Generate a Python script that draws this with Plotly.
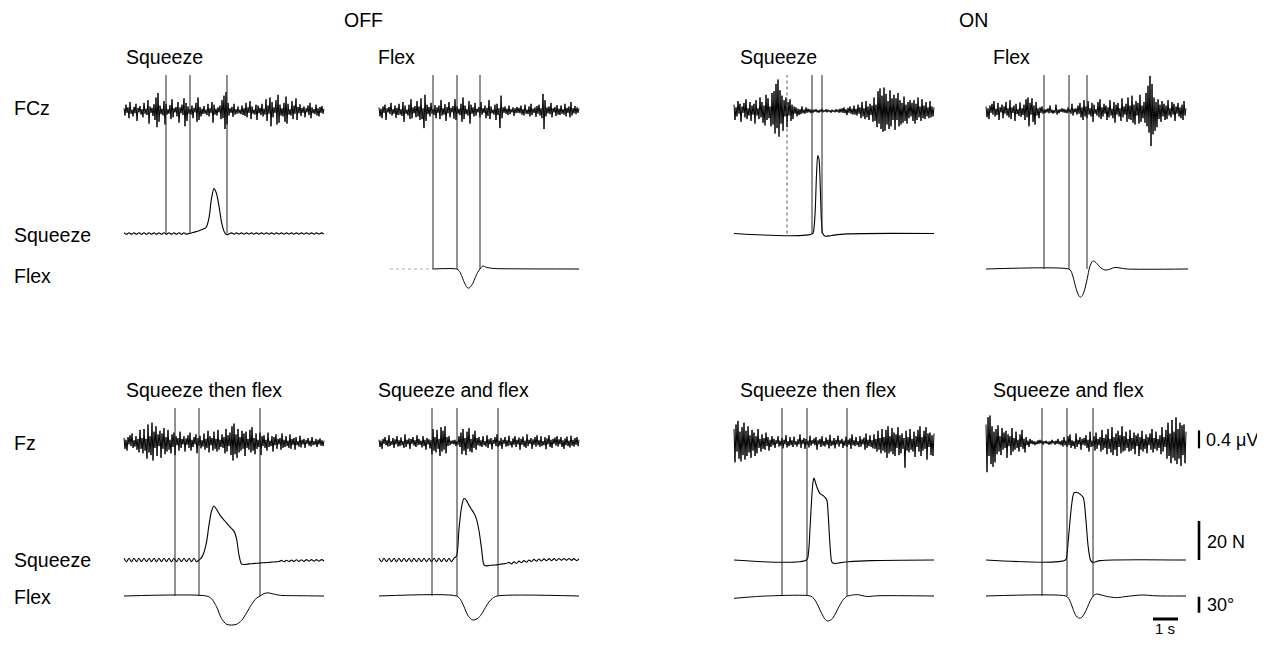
import numpy as np
import plotly.graph_objects as go

# ------------------------------------------------------------------ data
EEG_DT = 0.04    # s between EEG samples
FORCE_DT = 0.1   # s between samples of the OFF squeeze-force traces

# EEG (hundredths of a microvolt)
eeg_off_squeeze = [
    6, -10, 14, -4, 8, -16, 20, -6, 3, -12, 9, -5, 16, -22, 7, -3, 11, -8, 4, -14,
    18, -6, 5, -9, 24, -28, 10, -4, 7, -11, 15, -20, 30, -36, 40, -24, 12, -7, 5, -10,
    22, -30, 16, -8, 4, -6, 13, -18, 26, -14, 6, -3, 9, -12, 20, -26, 8, -5, 14, -9,
    28, -34, 18, -22, 10, -6, 4, -8, 12, -16, 7, -3, 18, -24, 30, -20, 9, -12, 5, -7,
    11, -6, 3, -9, 16, -12, 6, -4, 20, -26, 14, -8, 5, -10, 8, -3, 12, -18, 24, -16,
    34, -40, 42, -30, 18, -10, 6, -4, 9, -13, 16, -8, 4, -6, 10, -5, 3, -7, 12, -9,
    6, -11, 18, -14, 8, -4, 22, -18, 10, -6, 3, -8, 14, -20, 12, -5, 7, -9, 16, -12,
    5, -8, 26, -22, 12, -6, 30, -34, 20, -14, 8, -4, 24, -30, 36, -26, 14, -10, 6, -12,
    18, -24, 32, -28, 16, -8, 4, -10, 22, -18, 12, -6, 28, -20, 9, -5, 15, -11, 7, -4,
    10, -14, 6, -3, 12, -9, 18, -16, 8, -5, 4, -7, 14, -10, 6, -12, 9, -4, 11, -6,
    5]
eeg_off_flex = [
    8, -12, 5, -16, 10, -4, 14, -20, 6, -3, 9, -7, 18, -10, 4, -6, 12, -15, 7, -9,
    16, -8, 4, -11, 20, -24, 12, -6, 3, -10, 14, -18, 26, -16, 8, -5, 11, -14, 22, -12,
    10, -20, 28, -18, 6, -38, 36, -22, 14, -7, 9, -12, 18, -6, 4, -9, 13, -16, 8, -4,
    12, -18, 24, -10, 6, -8, 15, -22, 9, -5, 20, -14, 7, -3, 11, -17, 26, -20, 10, -6,
    5, -9, 16, -24, 30, -18, 12, -7, 4, -10, 22, -28, 14, -6, 8, -12, 18, -10, 5, -3,
    9, -14, 20, -8, 6, -4, 12, -16, 7, -11, 24, -18, 10, -5, 3, -8, 14, -20, 16, -9,
    6, -38, 34, -16, 8, -4, 10, -6, 5, -9, 12, -7, 4, -3, 8, -11, 6, -5, 9, -4,
    7, -5, 12, -8, 4, -10, 14, -6, 3, -7, 10, -12, 16, -9, 5, -4, 8, -13, 11, -6,
    14, -10, 6, -16, 38, -40, 24, -12, 8, -5, 10, -7, 18, -14, 6, -3, 9, -11, 13, -8,
    5, -9, 12, -6, 4, -8, 16, -12, 7, -4, 10, -14, 20, -10, 6, -5, 11, -7, 8, -4,
    6]
eeg_on_squeeze = [
    14, -20, 8, -12, 22, -6, 16, -24, 10, -4, 18, -14, 26, -18, 6, -10, 20, -22, 12, -8,
    16, -28, 24, -10, 6, -18, 30, -14, 20, -26, 12, -32, 36, -20, 28, -16, 10, -34, 40, -30,
    44, -50, 60, -38, 70, -57, 46, -28, 34, -44, 24, -12, 30, -36, 20, -10, 26, -22, 14, -18,
    10, -6, 8, -12, 5, -9, 4, -7, 10, -5, 3, -6, 8, -4, 5, -3, 4, -5, 3, -4,
    3, -2, 4, -3, 2, -4, 3, -2, 5, -3, 2, -2, 4, -3, 3, -2, 2, -4, 3, -2,
    2, -3, 4, -2, 3, -4, 5, -3, 6, -4, 8, -5, 4, -9, 7, -4, 10, -6, 5, -8,
    12, -8, 5, -10, 14, -6, 8, -16, 20, -12, 6, -18, 22, -14, 10, -20, 16, -9, 12, -24,
    30, -22, 14, -36, 44, -28, 50, -40, 34, -46, 52, -44, 38, -30, 22, -40, 46, -34, 28, -20,
    36, -42, 28, -20, 40, -34, 24, -30, 18, -26, 32, -22, 14, -28, 20, -16, 24, -12, 18, -22,
    24, -28, 16, -20, 30, -14, 10, -22, 26, -16, 12, -18, 20, -12, 8, -16, 22, -14, 10, -12,
    8]
eeg_on_flex = [
    10, -14, 6, -18, 12, -4, 16, -8, 22, -12, 5, -9, 18, -20, 8, -3, 14, -16, 10, -6,
    20, -10, 6, -14, 24, -18, 8, -4, 12, -22, 16, -7, 4, -11, 19, -13, 6, -9, 14, -20,
    26, -14, 30, -34, 18, -8, 28, -24, 12, -30, 20, -10, 6, -16, 8, -4, 10, -6, 3, -5,
    4, -3, 6, -5, 12, -4, 3, -6, 2, -4, 14, -8, 3, -5, 4, -2, 6, -3, 5, -4,
    3, -5, 8, -3, 4, -6, 16, -10, 5, -3, 6, -8, 12, -6, 18, -14, 8, -20, 24, -12,
    10, -16, 22, -8, 6, -12, 18, -24, 14, -6, 4, -10, 20, -14, 26, -18, 8, -12, 16, -6,
    12, -20, 8, -14, 24, -10, 5, -16, 20, -26, 14, -8, 18, -12, 6, -22, 28, -14, 10, -8,
    16, -24, 30, -18, 12, -20, 34, -26, 14, -30, 22, -10, 18, -28, 36, -24, 12, -16, 20, -26,
    40, -34, 56, -48, 78, -78, 60, -52, 30, -44, 20, -36, 26, -18, 14, -24, 22, -12, 16, -20,
    12, -18, 24, -10, 6, -14, 20, -8, 16, -22, 10, -6, 18, -12, 8, -16, 14, -20, 22, -10,
    6]
eeg_off_stf = [
    10, -14, 6, -18, 12, -4, 16, -8, 20, -12, 5, -9, 14, -16, 8, -22, 28, -14, 10, -24,
    30, -18, 8, -36, 40, -22, 14, -28, 44, -40, 24, -12, 36, -30, 18, -8, 26, -34, 20, -14,
    32, -26, 12, -20, 28, -16, 6, -24, 18, -10, 22, -28, 14, -6, 10, -18, 24, -12, 8, -4,
    14, -20, 9, -5, 16, -12, 22, -18, 6, -10, 12, -4, 18, -24, 10, -7, 15, -13, 5, -9,
    20, -16, 8, -12, 26, -22, 14, -6, 10, -18, 24, -14, 8, -20, 28, -16, 6, -10, 18, -12,
    12, -24, 30, -20, 16, -8, 22, -28, 36, -40, 42, -26, 18, -34, 30, -22, 12, -18, 26, -14,
    20, -30, 24, -12, 8, -16, 28, -22, 34, -18, 10, -26, 20, -14, 6, -10, 22, -28, 14, -8,
    16, -12, 6, -18, 22, -10, 4, -8, 14, -20, 12, -6, 18, -14, 8, -4, 10, -16, 20, -12,
    6, -10, 14, -8, 4, -12, 18, -14, 8, -5, 10, -16, 12, -6, 3, -9, 15, -11, 6, -4,
    8, -12, 5, -3, 10, -7, 4, -9, 12, -6, 3, -5, 8, -10, 6, -4, 9, -7, 5, -8,
    4]
eeg_off_saf = [
    6, -10, 4, -14, 8, -3, 12, -6, 5, -9, 16, -8, 3, -5, 10, -12, 7, -4, 14, -9,
    5, -8, 11, -6, 3, -12, 18, -10, 6, -4, 9, -14, 8, -3, 12, -7, 5, -10, 16, -6,
    8, -5, 4, -11, 14, -8, 6, -16, 10, -4, 7, -13, 5, -26, 30, -18, 12, -22, 28, -14,
    8, -30, 34, -20, 26, -16, 36, -24, 12, -8, 14, -6, 4, -3, 5, -4, 6, -8, 3, -5,
    14, -10, 22, -26, 30, -18, 10, -28, 24, -14, 32, -20, 8, -22, 18, -12, 26, -16, 10, -6,
    12, -8, 5, -10, 14, -6, 3, -9, 16, -12, 7, -4, 10, -15, 6, -3, 12, -8, 18, -10,
    4, -7, 10, -14, 6, -3, 12, -9, 5, -8, 15, -6, 3, -11, 9, -5, 14, -10, 6, -4,
    11, -16, 8, -5, 13, -9, 4, -12, 18, -8, 6, -3, 10, -14, 7, -5, 12, -9, 16, -6,
    5, -10, 14, -8, 3, -6, 12, -15, 9, -4, 16, -10, 6, -12, 8, -3, 11, -7, 14, -9,
    7, -4, 12, -10, 5, -14, 9, -6, 13, -8, 4, -11, 15, -7, 6, -9, 10, -5, 12, -8,
    6]
eeg_on_stf = [
    30, -44, 40, -20, 48, -36, 24, -42, 34, -28, 44, -38, 26, -30, 36, -22, 16, -34, 28, -18,
    22, -30, 14, -24, 30, -12, 8, -20, 18, -14, 10, -16, 22, -8, 12, -18, 6, -10, 14, -6,
    8, -12, 5, -3, 14, -9, 4, -7, 10, -13, 6, -4, 16, -11, 3, -8, 12, -6, 5, -10,
    13, -5, 3, -9, 7, -4, 18, -12, 6, -3, 10, -14, 8, -5, 4, -11, 15, -7, 5, -3,
    9, -6, 12, -16, 5, -4, 8, -10, 14, -7, 3, -9, 11, -5, 6, -13, 17, -8, 4, -6,
    10, -13, 6, -4, 15, -9, 5, -3, 8, -12, 4, -7, 13, -10, 6, -5, 9, -14, 18, -6,
    5, -8, 12, -6, 3, -10, 14, -9, 7, -4, 11, -16, 20, -12, 6, -8, 16, -10, 5, -13,
    18, -14, 8, -20, 26, -16, 10, -24, 30, -18, 12, -22, 28, -34, 36, -24, 14, -20, 32, -26,
    22, -30, 18, -12, 34, -28, 16, -24, 20, -14, 10, -56, 26, -18, 12, -22, 30, -16, 8, -20,
    24, -32, 14, -10, 28, -20, 36, -30, 12, -18, 26, -14, 34, -38, 20, -10, 22, -28, 16, -30,
    20]
eeg_on_saf = [
    40, -66, 56, -30, 60, -48, 36, -54, 24, -44, 30, -26, 38, -20, 14, -28, 32, -16, 22, -12,
    26, -34, 18, -8, 14, -28, 32, -20, 10, -16, 24, -12, 6, -20, 18, -10, 28, -14, 8, -22,
    12, -6, 4, -10, 8, -3, 5, -4, 3, -6, 2, -4, 5, -3, 6, -2, 4, -5, 3, -2,
    4, -3, 2, -5, 3, -4, 6, -2, 3, -5, 4, -3, 8, -4, 3, -6, 5, -9, 12, -6,
    4, -10, 14, -6, 18, -12, 5, -8, 3, -14, 20, -10, 6, -4, 12, -16, 8, -5, 10, -7,
    16, -12, 6, -20, 24, -10, 4, -8, 14, -18, 22, -14, 8, -6, 12, -20, 28, -16, 10, -12,
    18, -26, 30, -14, 8, -22, 34, -28, 12, -16, 20, -30, 26, -10, 16, -24, 36, -20, 14, -18,
    24, -12, 8, -20, 28, -18, 10, -14, 22, -26, 16, -8, 20, -30, 12, -16, 26, -20, 8, -14,
    18, -24, 12, -6, 20, -16, 30, -22, 10, -14, 24, -18, 8, -12, 16, -26, 34, -20, 12, -10,
    28, -36, 44, -30, 20, -46, 50, -34, 24, -40, 56, -48, 30, -36, 44, -52, 38, -28, 40, -46,
    24]

# Squeeze force (N), OFF traces: one value every FORCE_DT
sq_off_squeeze = [
    0.4, -0.4, 0.4, -0.4, 0.4, -0.4, 0.4, -0.4, 0.4, -0.4, 0.4, -0.4, 0.4,
    -0.4, 0.4, -0.4, 0.4, -0.4, 0.4, -0.4, 0.4, -0.4, 0.4, -0.4, 0.4, -0.4,
    0.0, 0.3, 0.7, 1.0, 1.4, 1.9, 2.4, 3.5, 8.0, 18.0, 23.0, 20.5, 14.0, 6.0, 1.2, -0.6, -0.2,
    0.3, -0.3, 0.3, -0.3, 0.3, -0.3, 0.3, -0.3, 0.3, -0.3, 0.3, -0.3, 0.3, -0.3, 0.3, -0.3,
    0.3, -0.3, 0.3, -0.3, 0.3, -0.3, 0.3, -0.3, 0.3, -0.3, 0.3, -0.3, 0.3, -0.3, 0.3, -0.3,
    0.3, -0.3, 0.3, -0.3, 0.3, -0.3]
sq_off_stf = [
    0.9, -0.9, 0.9, -0.9, 0.9, -0.9, 0.9, -0.9, 0.9, -0.9, 0.9, -0.9, 0.9, -0.9, 0.9,
    -0.9, 0.9, -0.9, 0.9, -0.9, 0.9, -0.9, 0.9, -0.9, 0.9, -0.9, 0.9, -0.9, 0.9, -0.9,
    0.0, 1.2, 4.0, 9.0, 18.0, 25.0, 27.7, 26.0, 23.8, 22.0, 20.5, 19.0, 17.5, 16.2, 14.8,
    11.0, 2.5, -2.0, -2.3, -2.2,
    -2.0, -1.9, -1.8, -1.7, -1.6, -1.5, -1.4, -1.3, -1.2, -1.1, -1.0, -0.9, -0.8,
    -0.2, -0.9, -0.1, -0.8, 0.0, -0.8, 0.1, -0.7, 0.1, -0.7, 0.2, -0.6, 0.2, -0.6, 0.2,
    -0.6, 0.2, -0.5]
sq_off_saf = [
    0.9, -0.9, 0.9, -0.9, 0.9, -0.9, 0.9, -0.9, 0.9, -0.9, 0.9, -0.9, 0.9, -0.9, 0.9, -0.9,
    0.9, -0.9, 0.9, -0.9, 0.9, -0.9, 0.9, -0.9, 0.9, -0.9, 0.9, -0.9, 0.9, -0.9, 0.9,
    2.0, 16.0, 27.0, 31.5, 30.5, 28.0, 26.0, 24.0, 21.0, 15.0, 6.0, -2.5, -3.0, -2.8, -2.7,
    -2.6, -2.5, -2.3, -2.1, -1.9, -1.7, -1.2,
    -2.0, -0.9, -1.7, -0.6, -1.4, -0.3, -1.1, 0.0, -0.8, 0.3, -0.6, 0.5, -0.5, 0.6, -0.4,
    0.7, -0.4, 0.7, -0.3, 0.8, -0.2, 0.8, -0.2, 0.8, -0.2, 0.7, -0.3, 0.6]

# Squeeze force (N), ON traces: time (s) and value
sq_on_squeeze_t = [0, 3.15, 3.2, 3.25, 3.3, 3.35, 3.4, 3.45, 3.5, 3.55, 3.65, 3.9, 4.5, 8.0]
sq_on_squeeze = [0, 0, 3, 12, 30, 40, 38, 24, 6, 0, -1.4, -1.0, -0.2, 0]
sq_on_stf_t = [0, 2.9, 2.98, 3.04, 3.1, 3.16, 3.2, 3.31, 3.44, 3.57, 3.71, 3.76, 3.84,
               3.91, 3.98, 4.56, 5.5, 8.0]
sq_on_stf = [0, 0, 4, 16, 30, 40, 42, 37.6, 34, 33, 30.8, 24.8, 7.7, -0.9, -1.7, -0.9, -0.3, 0]
sq_on_saf_t = [0, 3.18, 3.24, 3.29, 3.36, 3.43, 3.52, 3.64, 3.76, 3.89, 4.0, 4.09, 4.19,
               4.28, 4.56, 8.0]
sq_on_saf = [0, 0, 3, 9.9, 20, 28.7, 34.4, 34.6, 33.8, 32, 20, 6.6, -0.3, -1.2, -0.3, 0]

# Flex angle (degrees): time (s) and value
flex_off_flex_t = [0.44, 2.16, 3.1, 3.2, 3.3, 3.4, 3.5, 3.57, 3.65, 3.75, 3.85, 3.95, 4.04,
                   4.15, 4.3, 4.6, 5.5, 8.0]
flex_off_flex = [0, 0, 0, -3, -12, -24, -33, -36, -34, -27, -16, -6, 0, 5.6, 3, 1, 0.3, 0]
flex_on_flex_t = [0, 3.3, 3.4, 3.5, 3.6, 3.7, 3.77, 3.85, 3.95, 4.05, 4.15, 4.27, 4.4, 4.55,
                  4.75, 4.95, 5.16, 5.4, 5.65, 8.08]
flex_on_flex = [0, 0, -4, -18, -36, -49, -53, -50, -38, -18, 4, 15, 12, 4, -1.9, -0.5, 3.1,
                1.5, 0, 0]
flex_off_stf_t = [0, 3.3, 3.5, 3.7, 3.9, 4.1, 4.3, 4.5, 4.7, 4.9, 5.1, 5.3, 5.45, 5.6, 5.75,
                  5.95, 6.25, 7.0, 8.0]
flex_off_stf = [0, 0, -5, -20, -42, -53, -54.5, -53, -46, -32, -16, -4, 0, 4.5, 6, 4, 1.3,
                0.5, 0]
flex_off_saf_t = [0, 3.1, 3.25, 3.4, 3.55, 3.7, 3.8, 3.95, 4.1, 4.25, 4.4, 4.55, 4.72, 8.0]
flex_off_saf = [0, 0, -6, -20, -36, -44, -45, -42, -34, -22, -11, -4, 0, 0]
flex_on_stf_t = [0, 0.4, 0.9, 1.3, 3.05, 3.2, 3.35, 3.5, 3.65, 3.75, 3.9, 4.05, 4.2, 4.35,
                 4.5, 4.7, 4.95, 5.3, 5.8, 8.0]
flex_on_stf = [-4.4, -2.8, -1, 0, 0, -5, -17, -32, -44, -47, -44, -34, -20, -8, -1, 1.5, 2.5,
               -0.8, 0.5, 0]
flex_on_saf_t = [0, 3.2, 3.3, 3.4, 3.5, 3.6, 3.7, 3.77, 3.85, 3.95, 4.05, 4.15, 4.29, 4.43,
                 4.6, 4.85, 5.23, 5.6, 6.23, 6.8, 8.0]
flex_on_saf = [0, 0, -4, -14, -27, -37, -41, -41.5, -39, -32, -22, -11, 0, 3.75, 2, -1, -3.1,
               -1, 1.9, 0.3, 0]

# event markers (s)
ev_off_squeeze = [1.68, 2.64, 4.12]
ev_off_flex = [2.16, 3.12, 4.04]
ev_on_squeeze = [2.12, 3.12, 3.52]
ev_on_flex = [2.32, 3.32, 4.04]
ev_off_stf = [2.04, 3.0, 5.44]
ev_off_saf = [2.12, 3.12, 4.76]
ev_on_stf = [1.92, 2.92, 4.52]
ev_on_saf = [2.24, 3.24, 4.28]

# calibration bars
bar_eeg_uv = 0.4
bar_force_n = 20
bar_flex_deg = 30
bar_time_s = 1

# text
condition_labels = ["OFF", "ON"]
titles_top = ["Squeeze", "Flex", "Squeeze", "Flex"]
titles_bottom = ["Squeeze then flex", "Squeeze and flex", "Squeeze then flex", "Squeeze and flex"]
row_labels_top = ["FCz", "Squeeze", "Flex"]
row_labels_bottom = ["Fz", "Squeeze", "Flex"]

# ------------------------------------------------------------------ layout constants
# positions below are page pixels; the page body adds an 8 px margin round the figure
PAGE_W, PAGE_H = 1265, 647
OFF_PX = 8
W, H = PAGE_W - 2 * OFF_PX, PAGE_H - 2 * OFF_PX
PX_PER_S = 25.0
PX_PER_UV = 45.0
PX_PER_N = 39.0 / 20.0
PX_PER_DEG = 16.0 / 30.0
COL_X0 = [124, 379, 734, 986]
ROWS = [dict(eeg=111.0, sq=233.5, fx=269.0, top=75.0),
        dict(eeg=442.5, sq=560.0, fx=596.0, top=408.0)]
FONT = dict(family="Liberation Sans, Arial, Helvetica, sans-serif", size=19.5, color="black")
FONT_BAR = dict(family="Liberation Sans, Arial, Helvetica, sans-serif", size=18, color="black")
FONT_SEC = dict(family="Liberation Sans, Arial, Helvetica, sans-serif", size=15, color="black")


def px(x):
    return (x - OFF_PX) / W


def py(y):
    return 1 - (y - OFF_PX) / H


def yrange(base, scale):
    b = base - OFF_PX
    return [(b - H) / scale, b / scale]


def tgrid(n, dt):
    return np.arange(n) * dt


panels = [
    dict(row=0, col=0, eeg=eeg_off_squeeze, sq=(tgrid(len(sq_off_squeeze), FORCE_DT), sq_off_squeeze),
         fx=None, ev=ev_off_squeeze, end="sq"),
    dict(row=0, col=1, eeg=eeg_off_flex, sq=None, fx=(flex_off_flex_t, flex_off_flex),
         ev=ev_off_flex, end="fx", faint=True),
    dict(row=0, col=2, eeg=eeg_on_squeeze, sq=(sq_on_squeeze_t, sq_on_squeeze), fx=None,
         ev=ev_on_squeeze, end="sq", dotted=True),
    dict(row=0, col=3, eeg=eeg_on_flex, sq=None, fx=(flex_on_flex_t, flex_on_flex),
         ev=ev_on_flex, end="fx"),
    dict(row=1, col=0, eeg=eeg_off_stf, sq=(tgrid(len(sq_off_stf), FORCE_DT), sq_off_stf),
         fx=(flex_off_stf_t, flex_off_stf), ev=ev_off_stf, end="fx"),
    dict(row=1, col=1, eeg=eeg_off_saf, sq=(tgrid(len(sq_off_saf), FORCE_DT), sq_off_saf),
         fx=(flex_off_saf_t, flex_off_saf), ev=ev_off_saf, end="fx"),
    dict(row=1, col=2, eeg=eeg_on_stf, sq=(sq_on_stf_t, sq_on_stf),
         fx=(flex_on_stf_t, flex_on_stf), ev=ev_on_stf, end="fx"),
    dict(row=1, col=3, eeg=eeg_on_saf, sq=(sq_on_saf_t, sq_on_saf),
         fx=(flex_on_saf_t, flex_on_saf), ev=ev_on_saf, end="fx"),
]

fig = go.Figure()
layout = dict(width=W, height=H, autosize=False, margin=dict(l=0, r=0, t=0, b=0, pad=0),
              paper_bgcolor="white", plot_bgcolor="rgba(0,0,0,0)", showlegend=False)
shapes = []
annotations = []


def axname(prefix, i):
    return prefix if i == 1 else f"{prefix}{i}"


for r, row in enumerate(ROWS):
    for j, (base, scale) in enumerate([(row["eeg"], PX_PER_UV), (row["sq"], PX_PER_N),
                                       (row["fx"], PX_PER_DEG)]):
        idx = r * 3 + j + 1
        layout["yaxis" if idx == 1 else f"yaxis{idx}"] = dict(
            domain=[0, 1], range=yrange(base, scale), visible=False, fixedrange=True)


def yax(r, kind):
    return axname("y", r * 3 + {"eeg": 0, "sq": 1, "fx": 2}[kind] + 1)


for k, p in enumerate(panels):
    xi = k + 1
    x0 = COL_X0[p["col"]] - OFF_PX
    layout["xaxis" if xi == 1 else f"xaxis{xi}"] = dict(
        domain=[0, 1], range=[-x0 / PX_PER_S, (W - x0) / PX_PER_S], visible=False, fixedrange=True)
    xa = axname("x", xi)
    r = p["row"]

    eeg = np.array(p["eeg"], dtype=float) / 100.0
    fig.add_trace(go.Scatter(x=tgrid(len(eeg), EEG_DT), y=eeg, xaxis=xa, yaxis=yax(r, "eeg"),
                             mode="lines", line=dict(color="black", width=1.0), hoverinfo="skip"))
    if p["sq"] is not None:
        t, v = p["sq"]
        fig.add_trace(go.Scatter(x=t, y=v, xaxis=xa, yaxis=yax(r, "sq"), mode="lines",
                                 line=dict(color="black", width=1.1, shape="spline", smoothing=0.8),
                                 hoverinfo="skip"))
    if p["fx"] is not None:
        t, v = np.array(p["fx"][0]), np.array(p["fx"][1])
        if p.get("faint"):
            pre = t <= p["ev"][0]
            fig.add_trace(go.Scatter(x=t[pre], y=v[pre], xaxis=xa, yaxis=yax(r, "fx"), mode="lines",
                                     line=dict(color="#aaaaaa", width=1, dash="dot"),
                                     hoverinfo="skip"))
            post = t >= p["ev"][0]
            t, v = t[post], v[post]
        fig.add_trace(go.Scatter(x=t, y=v, xaxis=xa, yaxis=yax(r, "fx"), mode="lines",
                                 line=dict(color="black", width=1, shape="spline", smoothing=0.8),
                                 hoverinfo="skip"))
    bottom = ROWS[r][p["end"]]
    for n, te in enumerate(p["ev"]):
        dotted = p.get("dotted") and n == 0
        shapes.append(dict(type="line", xref=xa, yref="paper", x0=te, x1=te,
                           y0=py(bottom), y1=py(ROWS[r]["top"]),
                           line=dict(color="#555555" if dotted else "#222222", width=1,
                                     dash="dot" if dotted else "solid")))

# calibration bars
BAR_X = px(1199)
shapes.append(dict(type="line", xref="paper", yref=yax(1, "eeg"), x0=BAR_X, x1=BAR_X,
                   y0=-0.13, y1=-0.13 + bar_eeg_uv, line=dict(color="black", width=2.2)))
shapes.append(dict(type="line", xref="paper", yref=yax(1, "sq"), x0=BAR_X, x1=BAR_X,
                   y0=0, y1=bar_force_n, line=dict(color="black", width=2.6)))
shapes.append(dict(type="line", xref="paper", yref=yax(1, "fx"), x0=BAR_X, x1=BAR_X,
                   y0=-1.5, y1=-1.5 - bar_flex_deg, line=dict(color="black", width=2.6)))
shapes.append(dict(type="line", xref="x8", yref="paper", x0=6.68, x1=6.68 + bar_time_s,
                   y0=py(619), y1=py(619), line=dict(color="black", width=3)))


def text(s, x, y, anchor="left", font=FONT):
    annotations.append(dict(text=s, x=px(x), y=py(y), xref="paper", yref="paper",
                            xanchor=anchor, yanchor="middle", showarrow=False, font=font))


text(condition_labels[0], 363, 20, "center")
text(condition_labels[1], 973, 20, "center")
for lab, x in zip(titles_top, [124, 376, 738, 991]):
    text(lab, x, 57)
for lab, x in zip(titles_bottom, [124, 376, 738, 991]):
    text(lab, x, 390)
for lab, y in zip(row_labels_top, [108, 235, 276]):
    text(lab, 12, y)
for lab, y in zip(row_labels_bottom, [443, 560, 597]):
    text(lab, 12, y)
text(f"{bar_eeg_uv} μV", 1204, 440, font=FONT_BAR)
text(f"{bar_force_n} N", 1205, 542, font=FONT_BAR)
text(f"{bar_flex_deg}°", 1205, 605, font=FONT_BAR)
text(f"{bar_time_s} s", 1165, 628.5, "center", font=FONT_SEC)

layout["shapes"] = shapes
layout["annotations"] = annotations
fig.update_layout(**layout)
fig.write_html("out.html")
